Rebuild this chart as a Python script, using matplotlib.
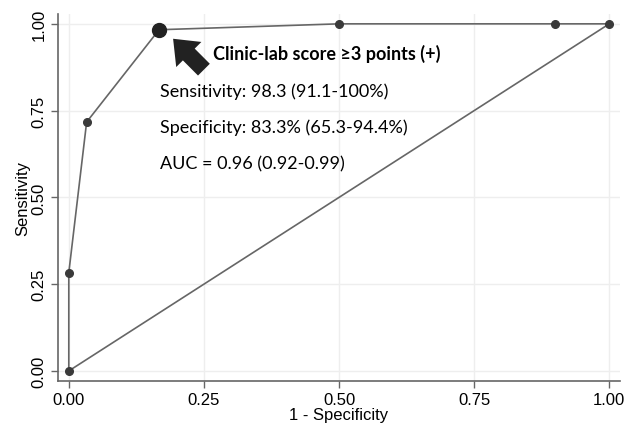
import matplotlib
matplotlib.use("Agg")
import matplotlib.pyplot as plt

# ROC points
one_minus_spec = [0.0, 0.0, 0.033, 0.167, 0.5, 0.9, 1.0]
sensitivity = [0.0, 0.283, 0.717, 0.983, 1.0, 1.0, 1.0]

# the chosen cut-off
cut_x = [0.167]
cut_y = [0.983]

ticks = [0.0, 0.25, 0.5, 0.75, 1.0]
tick_labels = ["0.00", "0.25", "0.50", "0.75", "1.00"]

fig = plt.figure(figsize=(6.33, 4.27), dpi=100)
ax = fig.add_axes([0.0916, 0.1054, 0.888, 0.86])

line_col = "#666666"
dot_col = "#3a3a3a"

# reference line
ax.plot([0, 1], [0, 1], color=line_col, lw=1.2, zorder=2)
# ROC curve
ax.plot(one_minus_spec, sensitivity, color=line_col, lw=1.2, zorder=3)
ax.plot(one_minus_spec, sensitivity, "o", color=dot_col, ms=5.5, zorder=4)
ax.plot(cut_x, cut_y, "o", color="#222222", ms=10, zorder=5)

ax.set_xlim(-0.02, 1.02)
ax.set_ylim(-0.029, 1.029)
ax.set_xticks(ticks)
ax.set_xticklabels(tick_labels, fontsize=12, family="Liberation Sans")
ax.set_yticks(ticks)
ax.set_yticklabels(tick_labels, fontsize=12, family="Liberation Sans",
                   rotation=90, va="center")
ax.tick_params(direction="out", length=5, color=line_col, width=1, pad=3)
ax.grid(True, color="#eeeeee", lw=1)
ax.set_axisbelow(True)
for side in ["top", "right"]:
    ax.spines[side].set_visible(False)
for side in ["left", "bottom"]:
    ax.spines[side].set_color(line_col)
    ax.spines[side].set_linewidth(1.2)

ax.set_xlabel("1 - Specificity", fontsize=12, family="Liberation Sans", labelpad=0)
ax.set_ylabel("Sensitivity", fontsize=12, family="Liberation Sans", labelpad=1)

# arrow pointing at the cut-off point
ax.annotate("", xy=(0.193, 0.957), xytext=(0.25, 0.868),
            arrowprops=dict(arrowstyle="simple,head_width=1.6,head_length=1.0,tail_width=0.75",
                            mutation_scale=16, color="#222222", lw=0,
                            shrinkA=0, shrinkB=0))

ax.text(0.267, 0.915, "Clinic-lab score \u22653 points (+)", fontsize=13,
        fontweight="bold", family="Lato", va="center")
ax.text(0.168, 0.808, "Sensitivity: 98.3 (91.1-100%)", fontsize=13,
        family="Lato", va="center")
ax.text(0.168, 0.705, "Specificity: 83.3% (65.3-94.4%)", fontsize=13,
        family="Lato", va="center")
ax.text(0.168, 0.598, "AUC = 0.96 (0.92-0.99)", fontsize=13,
        family="Lato", va="center")

fig.savefig("out.png", dpi=100)
